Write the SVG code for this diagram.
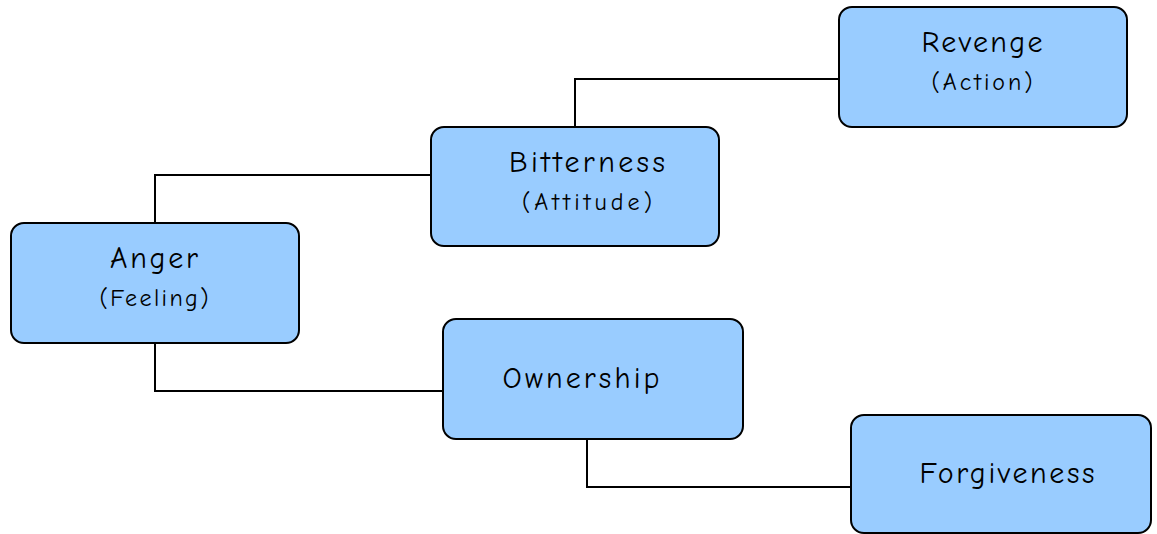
<svg xmlns="http://www.w3.org/2000/svg" width="1157" height="534" viewBox="0 0 1157 534">
<style>
.box{fill:#99CCFF;stroke:#000;stroke-width:2}
.conn{fill:none;stroke:#000;stroke-width:2}
.t{font-family:"Comic Neue","Liberation Sans","DejaVu Sans",sans-serif;font-size:30px;fill:#000;text-anchor:middle}
.s{font-family:"Comic Neue","Liberation Sans","DejaVu Sans",sans-serif;font-size:24px;fill:#000;text-anchor:middle}
</style>
<rect width="1157" height="534" fill="#fff"/>
<g id="connectors">
<polyline class="conn" points="575,127 575,79 839,79"/>
<polyline class="conn" points="155,223 155,175 431,175"/>
<polyline class="conn" points="155,343 155,391 443,391"/>
<polyline class="conn" points="587,439 587,487 851,487"/>
</g>
<g id="revenge">
<rect class="box" x="839" y="7" width="288" height="120" rx="13"/>
<text class="t" x="982" y="52" textLength="121" lengthAdjust="spacing">Revenge</text>
<text class="s" x="982" y="90" textLength="101" lengthAdjust="spacing">(Action)</text>
</g>
<g id="bitterness">
<rect class="box" x="431" y="127" width="288" height="119" rx="13"/>
<text class="t" x="587" y="172" textLength="156" lengthAdjust="spacing">Bitterness</text>
<text class="s" x="587" y="210" textLength="130" lengthAdjust="spacing">(Attitude)</text>
</g>
<g id="anger">
<rect class="box" x="11" y="223" width="288" height="120" rx="13"/>
<text class="t" x="154" y="268" textLength="88" lengthAdjust="spacing">Anger</text>
<text class="s" x="154" y="306" textLength="109" lengthAdjust="spacing">(Feeling)</text>
</g>
<g id="ownership">
<rect class="box" x="443" y="319" width="300" height="120" rx="13"/>
<text class="t" x="581" y="388" textLength="157" lengthAdjust="spacing">Ownership</text>
</g>
<g id="forgiveness">
<rect class="box" x="851" y="415" width="300" height="118" rx="13"/>
<text class="t" x="1007" y="483" textLength="175" lengthAdjust="spacing">Forgiveness</text>
</g>
</svg>
